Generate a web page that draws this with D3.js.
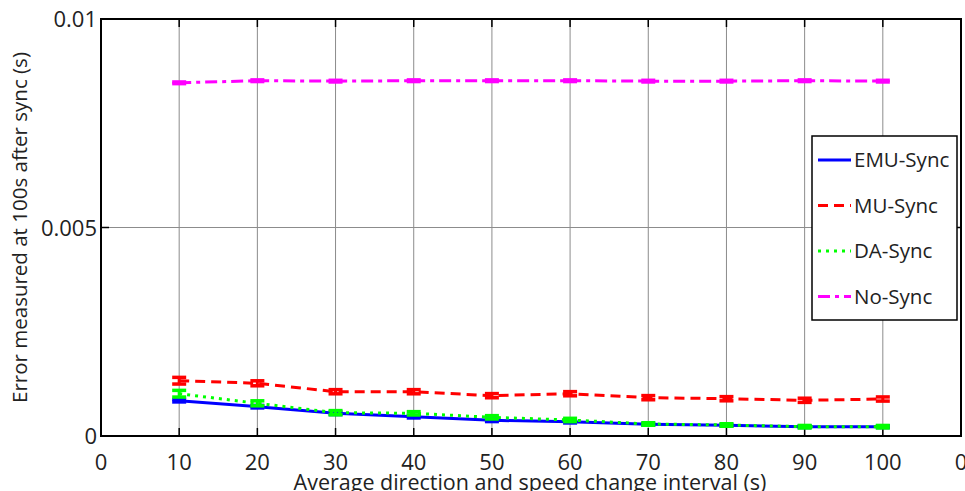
<!DOCTYPE html>
<html>
<head>
<meta charset="utf-8">
<script src="https://cdn.jsdelivr.net/npm/d3@7"></script>
<style>
  body { margin: 0; background: #fff; }
  svg { display: block; font-family: "Open Sans", "Noto Sans", sans-serif; }
</style>
</head>
<body>
<svg id="chart" width="965" height="491"></svg>
<script>
// chart data
const xs = [10, 20, 30, 40, 50, 60, 70, 80, 90, 100];
const xTicks = [0, 10, 20, 30, 40, 50, 60, 70, 80, 90, 100, 110];
const xTickLabels = ["0", "10", "20", "30", "40", "50", "60", "70", "80", "90", "100", "0"];
const yTicks = [0, 0.005, 0.01];
const yTickLabels = ["0", "0.005", "0.01"];

const emu = [0.000847, 0.000703, 0.000544, 0.000463, 0.000376, 0.000343, 0.00028, 0.000257, 0.000223, 0.000223];
const mu = [0.001326, 0.001264, 0.001062, 0.001062, 0.000967, 0.001014, 0.000919, 0.000894, 0.000856, 0.000887];
const da = [0.001014, 0.000784, 0.000559, 0.000544, 0.000448, 0.000384, 0.000288, 0.000264, 0.000223, 0.000223];
const nosync = [0.00847, 0.00852, 0.00851, 0.00852, 0.00852, 0.00852, 0.00851, 0.00851, 0.00852, 0.00851];

const emuErr = [0.00003, 0.00003, 0.00003, 0.00003, 0.00003, 0.00003, 0.00002, 0.00002, 0.00002, 0.00002];
const muErr = [0.00008, 0.00006, 0.00005, 0.00005, 0.00005, 0.00005, 0.00005, 0.00005, 0.00005, 0.00005];
const daErr = [0.00008, 0.00006, 0.00005, 0.00004, 0.00004, 0.00004, 0.00003, 0.00003, 0.00003, 0.00003];
const noErr = [0.00002, 0.00002, 0.00002, 0.00002, 0.00002, 0.00002, 0.00002, 0.00002, 0.00002, 0.00002];

const series = [
  { name: "EMU-Sync", values: emu, err: emuErr, color: "#0000ff", dash: null },
  { name: "MU-Sync", values: mu, err: muErr, color: "#ff0000", dash: "10,6" },
  { name: "DA-Sync", values: da, err: daErr, color: "#00ff00", dash: "3,5" },
  { name: "No-Sync", values: nosync, err: noErr, color: "#ff00ff", dash: "12,5,4,5" }
];

const svg = d3.select("#chart");
const pLeft = 101, pRight = 961, pTop = 19, pBottom = 436;

const x = d3.scaleLinear().domain([0, 110]).range([pLeft, pRight]);
const y = d3.scaleLinear().domain([0, 0.01]).range([pBottom, pTop]);

// grid lines
svg.append("g")
  .selectAll("line")
  .data(xTicks.slice(1, -1))
  .enter().append("line")
  .attr("x1", d => x(d)).attr("x2", d => x(d))
  .attr("y1", pTop).attr("y2", pBottom)
  .attr("stroke", "#8c8c8c").attr("stroke-width", 1);

svg.append("line")
  .attr("x1", pLeft).attr("x2", pRight)
  .attr("y1", y(0.005)).attr("y2", y(0.005))
  .attr("stroke", "#8c8c8c").attr("stroke-width", 1);

// inward tick marks, bottom and top
const tickG = svg.append("g").attr("stroke", "#000").attr("stroke-width", 1.5);
xTicks.forEach(t => {
  tickG.append("line").attr("x1", x(t)).attr("x2", x(t)).attr("y1", pBottom).attr("y2", pBottom - 8);
  tickG.append("line").attr("x1", x(t)).attr("x2", x(t)).attr("y1", pTop).attr("y2", pTop + 8);
});
yTicks.forEach(t => {
  tickG.append("line").attr("x1", pLeft).attr("x2", pLeft + 8).attr("y1", y(t)).attr("y2", y(t));
  tickG.append("line").attr("x1", pRight).attr("x2", pRight - 8).attr("y1", y(t)).attr("y2", y(t));
});

// axes box
svg.append("rect")
  .attr("x", pLeft).attr("y", pTop)
  .attr("width", pRight - pLeft).attr("height", pBottom - pTop)
  .attr("fill", "none").attr("stroke", "#000").attr("stroke-width", 2);

// tick labels
svg.append("g")
  .selectAll("text")
  .data(xTicks)
  .enter().append("text")
  .attr("x", d => x(d))
  .attr("y", 470)
  .attr("text-anchor", "middle")
  .attr("font-size", 22)
  .attr("fill", "#222")
  .text((d, i) => xTickLabels[i]);

svg.append("g")
  .selectAll("text")
  .data(yTicks)
  .enter().append("text")
  .attr("x", 97)
  .attr("y", d => y(d) + 8)
  .attr("text-anchor", "end")
  .attr("font-size", 22)
  .attr("fill", "#222")
  .text((d, i) => yTickLabels[i]);

// axis titles
svg.append("text")
  .attr("x", 530).attr("y", 490)
  .attr("text-anchor", "middle")
  .attr("font-size", 21.5)
  .attr("fill", "#222")
  .text("Average direction and speed change interval (s)");

svg.append("text")
  .attr("transform", "translate(27," + ((pTop + pBottom) / 2) + ") rotate(-90)")
  .attr("text-anchor", "middle")
  .attr("font-size", 20.5)
  .attr("fill", "#222")
  .text("Error measured at 100s after sync (s)");

// series lines with error bars
const line = d3.line().x((d, i) => x(xs[i])).y(d => y(d));

series.forEach(s => {
  const g = svg.append("g");
  g.append("path")
    .datum(s.values)
    .attr("d", line)
    .attr("fill", "none")
    .attr("stroke", s.color)
    .attr("stroke-width", 3)
    .attr("stroke-dasharray", s.dash);

  s.values.forEach((v, i) => {
    const cx = x(xs[i]);
    const y1 = y(v + s.err[i]), y2 = y(v - s.err[i]);
    g.append("line").attr("x1", cx).attr("x2", cx).attr("y1", y1).attr("y2", y2)
      .attr("stroke", s.color).attr("stroke-width", 3);
    [y1, y2].forEach(yy => {
      g.append("line").attr("x1", cx - 7).attr("x2", cx + 7).attr("y1", yy).attr("y2", yy)
        .attr("stroke", s.color).attr("stroke-width", 3.5);
    });
  });
});

// legend
const lg = svg.append("g");
lg.append("rect")
  .attr("x", 812).attr("y", 136)
  .attr("width", 145).attr("height", 184)
  .attr("fill", "#fff").attr("stroke", "#000").attr("stroke-width", 1.5);

series.forEach((s, i) => {
  const ly = 160 + i * 45.5;
  lg.append("line")
    .attr("x1", 818).attr("x2", 851)
    .attr("y1", ly).attr("y2", ly)
    .attr("stroke", s.color).attr("stroke-width", 3)
    .attr("stroke-dasharray", s.dash);
  lg.append("text")
    .attr("x", 854).attr("y", ly + 7)
    .attr("font-size", 20.5)
    .attr("fill", "#222")
    .text(s.name);
});
</script>
</body>
</html>
